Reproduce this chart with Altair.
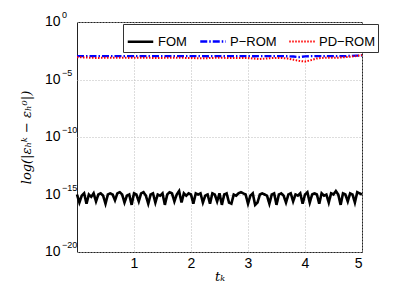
import altair as alt
import pandas as pd

series_names = ["FOM", "P\u2212ROM", "PD\u2212ROM"]
series_colors = ["#000000", "#0000ff", "#ff0000"]
series_dash = [[1, 0], [7, 2, 1.5, 2], [1.5, 1.5]]
series_width = [2.6, 2.0, 2.2]

t_end = 5.0

fom_log = [
    -15.0, -15.7, -15.1, -14.9, -15.8, -15.0, -15.2, -14.9, -15.6, -15.0,
    -14.9, -15.1, -15.8, -15.0, -14.9, -15.0, -15.5, -14.9, -14.8, -15.0,
    -15.7, -15.1, -15.0, -15.9, -14.9, -15.0, -15.6, -14.9, -14.8, -15.1,
    -15.8, -15.0, -14.9, -15.7, -15.0, -15.1, -14.9, -15.9, -15.0, -14.8,
    -14.9, -15.6, -15.0, -14.7, -15.7, -14.9, -15.1, -14.9, -15.0, -15.8,
    -14.9, -15.0, -14.9, -15.7, -15.1, -15.0, -15.8, -14.9, -15.0, -15.6,
    -14.9, -15.9, -15.0, -14.9, -15.7, -15.8, -15.0, -15.1, -14.9, -14.8,
    -14.9, -15.0, -15.8, -15.1, -14.9, -15.9, -15.7, -15.0, -14.9, -15.0,
    -15.1, -15.8, -15.0, -14.9, -15.9, -15.0, -14.9, -15.1, -15.7, -15.0,
    -14.9, -15.6, -15.0, -15.1, -14.9, -15.8, -15.0, -14.8, -15.7, -15.0,
    -14.9, -15.0, -15.8, -14.9, -15.1, -15.0, -15.7, -14.9, -15.0, -14.7,
    -15.0, -15.9, -14.9, -15.0, -15.6, -14.9, -15.0, -15.7, -14.8, -14.9,
    -15.0,
]

prom_log = [
    -2.97, -2.96, -2.97, -2.96, -2.97, -2.96, -2.97, -2.96, -2.97, -2.96,
    -2.97, -2.96, -2.97, -2.96, -2.97, -2.96, -2.97, -2.96, -2.97, -2.96,
    -2.97, -2.96, -2.97, -2.98, -2.97, -2.96, -2.97, -2.96, -2.97, -2.96,
    -2.97, -2.98, -2.97, -2.96, -2.97, -2.96, -2.97, -2.98, -3.00, -3.05,
    -2.99, -2.97, -2.96, -2.97, -2.96, -2.97, -2.96, -2.97, -2.95, -2.93,
    -2.91,
]

pdrom_log = [
    -3.06, -3.08, -3.10, -3.12, -3.12, -3.11, -3.11, -3.10, -3.11, -3.12,
    -3.11, -3.10, -3.11, -3.12, -3.13, -3.12, -3.11, -3.10, -3.11, -3.12,
    -3.13, -3.15, -3.16, -3.14, -3.12, -3.11, -3.12, -3.14, -3.13, -3.12,
    -3.14, -3.18, -3.22, -3.18, -3.14, -3.12, -3.13, -3.18, -3.28, -3.38,
    -3.44, -3.32, -3.18, -3.12, -3.11, -3.12, -3.10, -3.06, -3.02, -2.96,
    -2.88,
]

y_ticks = [1e-20, 1e-15, 1e-10, 1e-5, 1]
y_tick_exps = ["\u221220", "\u221215", "\u221210", "\u22125", "0"]
x_ticks = [1, 2, 3, 4, 5]

rows = []
for name, vals in zip(series_names, [fom_log, prom_log, pdrom_log]):
    n = len(vals)
    for i, v in enumerate(vals):
        rows.append({"series": name, "t": t_end * i / (n - 1), "err": 10 ** v, "ord": i})
df = pd.DataFrame(rows)
ticks_df = pd.DataFrame({"err": y_ticks, "exp": y_tick_exps})

yscale = alt.Scale(type="log", domain=[1e-20, 1], nice=False)

lines = alt.Chart(df).mark_line(strokeCap="butt", strokeJoin="miter").encode(
    x=alt.X("t:Q", scale=alt.Scale(domain=[0, 5], nice=False),
            axis=alt.Axis(values=x_ticks, title="t\u2096", format="d", titlePadding=0,
                          labelPadding=4)),
    y=alt.Y("err:Q", scale=yscale,
            axis=alt.Axis(values=y_ticks, labels=False, titleX=-44,
                          title="log(|\u03b5\u2095\u1d4f \u2212 \u03b5\u2095\u2070|)")),
    color=alt.Color("series:N", scale=alt.Scale(domain=series_names, range=series_colors),
                    legend=alt.Legend(title=None, orient="none", legendX=46, legendY=2,
                                      direction="horizontal", symbolType="stroke",
                                      symbolSize=650, labelFontSize=13, labelFont="Liberation Sans",
                                      fillColor="white", strokeColor="#333333", padding=3,
                                      columnPadding=8, labelOffset=3)),
    strokeDash=alt.StrokeDash("series:N", scale=alt.Scale(domain=series_names, range=series_dash)),
    strokeWidth=alt.StrokeWidth("series:N", scale=alt.Scale(domain=series_names, range=series_width)),
    order="ord:Q",
)

base_lbl = alt.Chart(ticks_df).mark_text(align="left", baseline="middle", fontSize=14,
                                         font="Liberation Sans", color="black").encode(
    x=alt.value(-32), y=alt.Y("err:Q", scale=yscale), text=alt.value("10"))
exp_lbl = alt.Chart(ticks_df).mark_text(align="left", baseline="middle", fontSize=9,
                                        font="Liberation Sans", color="black", dy=-7).encode(
    x=alt.value(-15), y=alt.Y("err:Q", scale=yscale), text="exp:N")

chart = alt.layer(lines, base_lbl, exp_lbl).properties(
    width=285, height=230,
    autosize=alt.AutoSizeParams(type="none"),
    padding={"left": 69, "top": 14, "right": 29, "bottom": 33},
    background="white",
).configure_view(
    stroke="#222222", strokeWidth=1
).configure_axis(
    grid=True, gridDash=[1, 2], gridColor="#bbbbbb", domain=False, ticks=False,
    labelFont="Liberation Sans", labelFontSize=14, labelColor="#000000",
    titleFont="DejaVu Serif", titleFontStyle="italic", titleFontWeight="normal",
    titleFontSize=13, titleColor="#000000", labelPadding=5
)

chart.save("out.html", embed_options={"renderer": "svg", "actions": False})
